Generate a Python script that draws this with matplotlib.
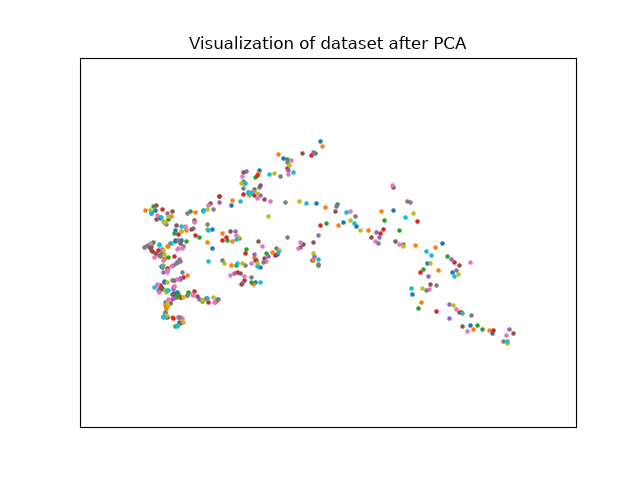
import matplotlib
matplotlib.use('Agg')
import matplotlib.pyplot as plt

plt.rcParams['text.hinting'] = 'native'

# projected coordinates, one pair of lists per colour
blue_x = [150.7,155,160,164.3,174,162.3,165,170,175,320.3,283.3,259.3,231.3,202.7,316.3,212.3,212.3,260.3,255,312,277.3,343.3,356.3,393.3,442.3,427.3,452.3,412.3,470.3,492.3,
          151.3,159.7,175.3,174.7,180.7,148,164,176.7,174,166,167.3,251.7]
blue_y = [213.3,210,217.3,281.7,294,288.3,316,243.3,240,141.3,158.3,170.3,205.3,210.3,203.3,229.3,248.3,267.3,282,260.3,254,222.3,226.3,210.3,243.3,263.3,272.3,294.3,325.3,333.3,
          212,218,229.7,241.3,239.7,244.7,281,292.3,293.3,306.7,316.7,191.7]
orange_x = [145.3,167.7,164,187.3,165,180,172,166,322.3,278.3,232.3,195.3,325.3,338.3,222.3,231.7,207.3,231.3,254,272.3,253.3,313.3,244,257.7,368.3,381.3,415.3,435.3,438.3,421.3,473.3,489.3,
            171.3,185.7,167.3,157.3,164,179.3]
orange_y = [210.3,246,258.3,275.3,305,297.3,316.7,308.3,146.3,154.3,200.3,212.3,207.3,225.3,233.3,241,242.3,265.3,257,252.3,284.3,260.3,183.3,173.3,230.3,211.3,245.3,247.3,270.3,302.3,329.3,330.3,
            216.3,229.7,246.3,254,258.7,297.3]
green_x = [152.7,168.3,174.3,186.3,168.3,153.3,150.7,188.3,175,201.7,176,167.3,315.3,287.3,255.3,219.3,190.3,337.3,326.3,199.3,227.3,246.3,266.3,235.7,251.3,318.3,254,384.3,399.3,447.3,423.3,418.3,477.3,482.3,
           151.3,161.7,178.3,165,180,250.7,201.7]
green_y = [206,219.3,233.3,241.3,257.3,242.3,250,292.3,325.7,300,297,303.3,153.3,159.3,177.3,195.7,211,204.3,223.3,237.3,240.3,249.3,253.3,265.3,282.3,264.7,189.3,220.3,230.3,256.3,269.3,308.3,325.3,329.3,
           246.3,289,294.3,311.7,323.3,193.3,301]
red_x = [162,177.7,174.3,161.7,206,208.3,173.3,180.7,160.7,150,311.3,287.3,257.3,219.3,243.3,320.3,195.3,222.3,225.7,245.3,275.3,236.7,244.3,194.3,255,383.3,380.3,417.3,453.7,420.3,436.3,461.3,493.3,
         164,158,152,183.3,166.7,160,254.3]
red_y = [209,234,256.3,267.3,298.3,301.7,318.3,296.7,286.7,246.7,155.3,168.3,175.3,196.3,194.3,225.3,235.3,240.3,237.3,253.3,255.3,272.3,280.3,291,260.3,229.3,233.3,221.3,261.7,271.7,311.3,312.3,330.3,
         222,249.7,251.3,276.7,267.7,285,195]
purple_x = [166.7,187.3,144,161.7,179.3,177,180,172.3,173.3,313.3,288.3,246.3,219.3,259.3,260.3,336,193.3,235.3,318.3,254.3,268.3,314.3,234.3,242.3,248.3,410.3,375.7,379.3,451.3,428.3,449.3,449.3,509.3,
            166.3,183,162,158.7,173,179.7,163.3,180,172.7,158.3,173.3,182.3,199,215.7]
purple_y = [213.3,213.3,246.7,249.3,259.3,262,278.3,299.3,286.7,152.3,170,171.3,202.3,187.3,195.3,206.3,228.3,231.3,235.3,254.3,255.7,256.3,273.3,283.3,191.7,202.3,232.3,237.3,259.3,276.3,304.3,318.3,329.3,
            224,246.3,250.7,255.3,264.7,261.3,271.7,279,289,290,298.3,322.3,299.3,301]
brown_x = [172.3,156,175.7,161.7,167.3,171.7,196.7,177.7,160.7,302.3,243.3,260.3,264.3,210.3,335.3,194.3,190.7,230.3,258.3,313.3,303.3,256.3,264.3,240.3,240.7,300.3,393.3,371.3,395.3,459.3,430.3,459.3,462.3,513.3,
           156.3,179.7,149.7,154.7,161.3,160,174,170,179.3]
brown_y = [211.3,219,225,253.3,270,294,296,317,288.3,153.3,172.3,185.3,199.3,203.3,211.3,220,229.3,231.3,241.3,242.3,244.3,260.3,258.3,273.3,284.3,247.3,187.3,237.3,241.3,265.3,284.3,312.3,326.3,333.3,
           205.3,243,248,253,266.3,287.7,280,303.3,321.7]
pink_x = [185,177.7,154.3,167.3,156.7,192.3,215,173.7,180,178.3,291.3,288.3,242.3,257.3,270.3,208.3,194.3,236.3,262.3,300.3,298.3,251.3,266.3,230.3,244.3,253.3,392.3,350.3,375.3,399.3,470.3,429.3,456.3,467.3,506.3,
          156.7,184.7,181.3,149.7,182,177.3,163,171.3,166.7,176.7,156.7,159.3,174,168.3,181.7,192.7,214.3]
pink_y = [226.7,248.3,256.7,271.7,285,294.3,301.7,285.7,317,316.7,160.3,174.3,176.3,198.3,201.3,205.3,222.3,235.3,246.3,242.3,248.3,263.3,261.3,275.3,276.3,191.3,185.3,211.3,241.3,244.3,262.3,289.3,309.3,331.3,335.3,
          215.3,226.3,230.7,243,248,248.7,259.7,266.3,270,279,284.3,291.7,285.7,299,318.3,295,301.7]
gray_x = [182.3,176.7,187.3,216.7,166,165,287.3,280.3,243.3,243.3,213.3,285.3,207.3,287.3,239.3,276.3,222.3,245.3,263.3,251.3,318.3,407.3,355.3,378.3,403.3,456.3,436.3,426.3,471.3,503.3,
          146.3,178,159.7,176.3,171.7,165,179.3,187.3,217.7]
gray_y = [272.3,261.7,295.3,299.3,316.7,302.3,162.3,176.3,181.3,188.3,209.3,202.3,224.3,237.3,238.3,248.3,260.3,264.7,262.3,277.3,264.3,201.3,216.3,243.3,244.3,270.3,285.3,290.3,315.3,341.3,
          246.3,239.7,256.3,263,280,313.3,317.3,295,299]
olive_x = [163.3,168.3,165.7,182.7,166.7,166,213.3,289.3,274.3,241.3,249.3,207.3,299.3,268.3,207.3,238.3,279.3,224.3,242.3,257.3,313.3,350.3,360.3,413.3,403.3,430.3,458.3,422.3,453.3,507.3,
           150.3,164.7,180.7,163,164,163,167.3,165,168.3,183.3,201.7,256.7]
olive_y = [221,216,291.7,296.7,303.3,315,296.7,165.3,173.3,183.3,195.3,209.3,201.3,216.3,229.3,237.3,250.3,263.3,263.3,263.3,253.3,220.3,230.3,213.3,246.3,263.3,274.3,288.3,305.3,343.3,
           209.7,222,231.3,249.7,254,264.7,282.3,290,305,321.7,300,193.3]
cyan_x = [151,180.7,159.3,154.3,168.3,176.7,163.3,293.3,269.3,245.3,248.3,240.3,306.3,203.3,208.3,236.3,278.3,318.3,208.3,237.3,257.3,260.3,251.3,346.3,354.3,405.3,426.3,431.3,454.3,411.3,462.3,507.3,
          160.7,170.7,159,162,167.3,163.3,176.7,207.3,248.3]
cyan_y = [212.7,226,244.3,287.3,290,325,316,172.3,174.3,183.3,193.3,201.3,203.3,211.3,230.3,239.3,252.3,259.3,261.3,263.3,266.3,282.3,193.3,212.3,223.3,217.3,251.3,255.3,276.3,288.3,313.3,341.3,
          217.3,243,244.7,266.3,290,316.7,325.7,298.3,191.7]

series = [
    (blue_x, blue_y), (orange_x, orange_y), (green_x, green_y), (red_x, red_y),
    (purple_x, purple_y), (brown_x, brown_y), (pink_x, pink_y), (gray_x, gray_y),
    (olive_x, olive_y), (cyan_x, cyan_y),
]

fig, ax = plt.subplots()
# default colour cycle gives tab10 in list order
for xs, ys in series:
    ax.scatter(xs, ys, s=5)
ax.set_xlim(80, 576)
ax.set_ylim(427.2, 57.6)
ax.set_xticks([])
ax.set_yticks([])
ax.set_title('Visualization of dataset after PCA')
plt.savefig('out.png')
plt.close()
